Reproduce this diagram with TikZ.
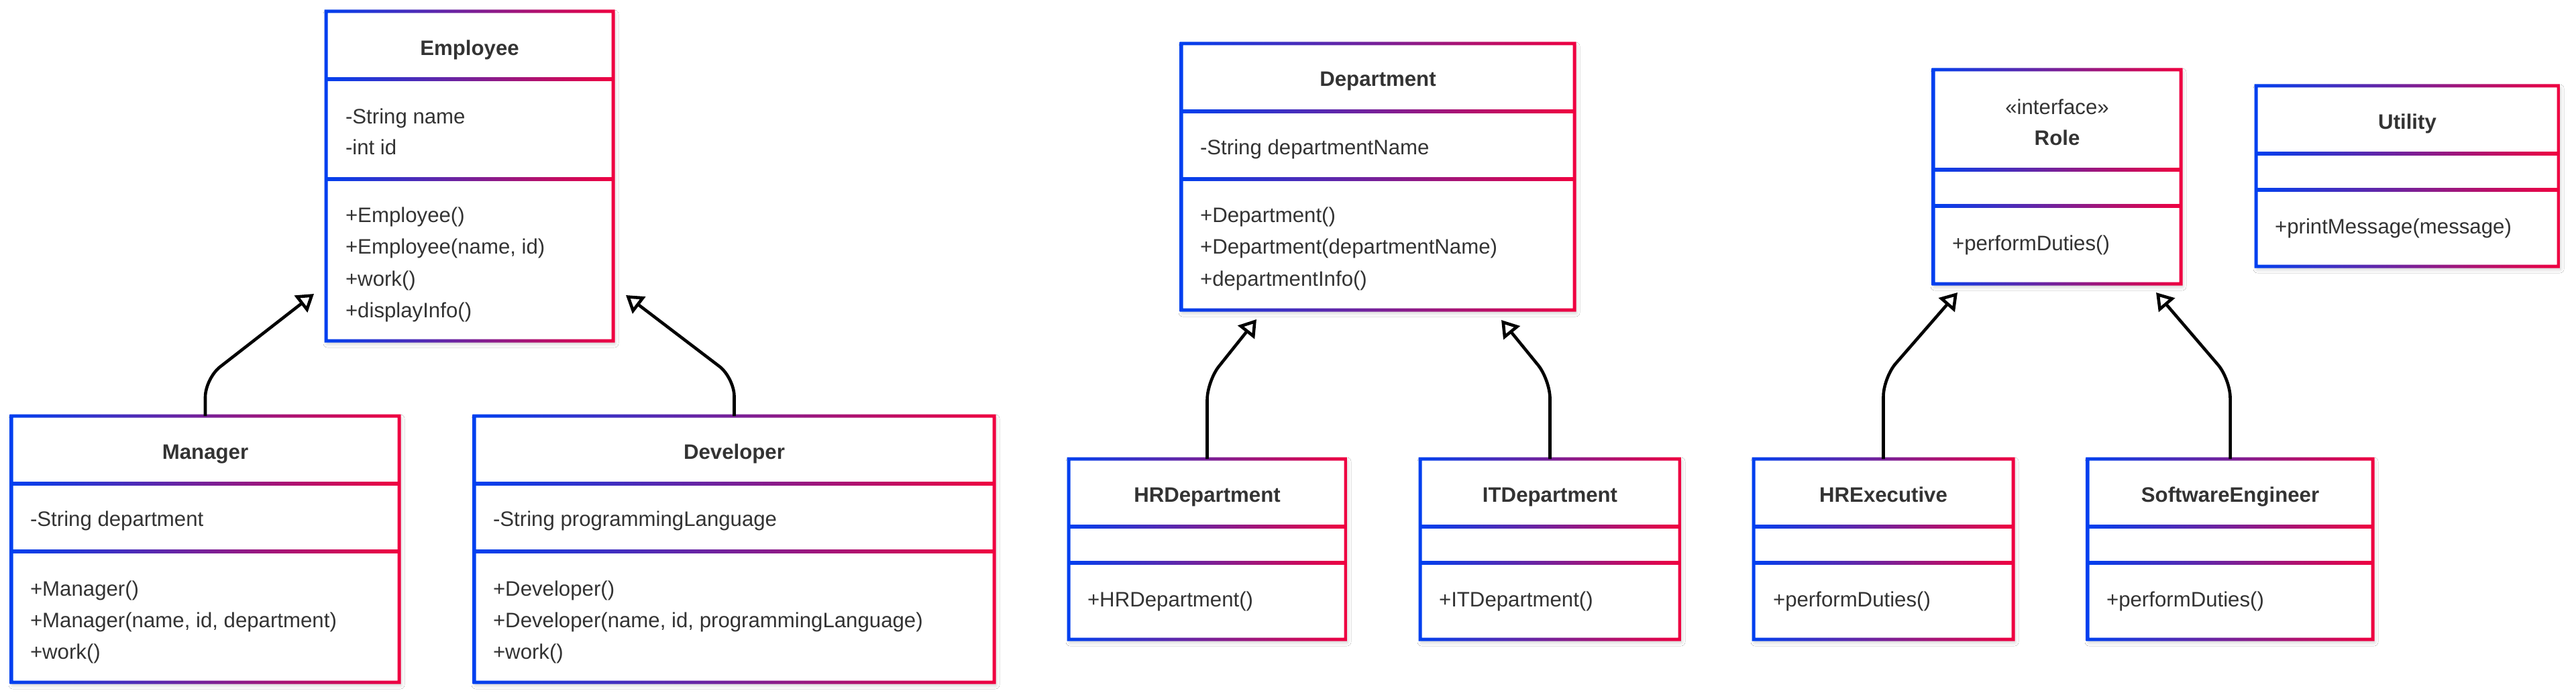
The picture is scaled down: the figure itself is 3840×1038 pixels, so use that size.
\documentclass[tikz,border=0pt]{standalone}
\usepackage{fontspec}
\setmainfont{Liberation Sans}
\usetikzlibrary{arrows.meta,shadows.blur}
\definecolor{umlblue}{RGB}{0,64,240}
\definecolor{umlred}{RGB}{240,0,64}
\definecolor{txtgray}{RGB}{51,51,51}
\tikzset{
  boxbg/.style={fill=white, draw=none, inner sep=0pt, outer sep=0pt, anchor=north west,
    blur shadow={shadow xshift=0.5pt, shadow yshift=-1pt, shadow blur radius=1.5pt, shadow opacity=22}},
  txt/.style={text=txtgray, inner sep=0pt, outer sep=0pt, font=\fontsize{7.8pt}{9pt}\selectfont},
  ttl/.style={txt, anchor=base, font=\fontsize{7.8pt}{9pt}\selectfont\bfseries},
  stereo/.style={txt, anchor=base},
  mem/.style={txt, anchor=base west},
  conn/.style={draw=black, line width=1.15pt, rounded corners=7pt,
    -{Triangle[open, length=6.2pt, width=7.8pt, fill=white]}},
}
% frame: x1,y1,x2,y2,dividers
\newcommand\umlframe[5]{%
  \shade[left color=umlblue, right color=umlred, even odd rule]
    ({#1-2.5},{#2-2.5}) rectangle ({#3+2.5},{#4+2.5}) ({#1+2.5},{#2+2.5}) rectangle ({#3-2.5},{#4-2.5});
  \foreach \dd in {#5}{\shade[left color=umlblue, right color=umlred] ({#1},{\dd-2.5}) rectangle ({#3},{\dd+2.5});}
}
% box: name,x1,y1,x2,y2,dividers
\newcommand\umlbox[6]{%
  \node[boxbg, minimum width={(#4-#2)*0.25pt}, minimum height={(#5-#3)*0.25pt}] (#1) at (#2,#3) {};
  \umlframe{#2}{#3}{#4}{#5}{#6}
}
\begin{document}
\begin{tikzpicture}[x=0.25pt,y=-0.25pt]
\useasboundingbox[fill=white] (0,0) rectangle (3840,1038);

% ---- Employee
\umlbox{emp}{486}{17}{914}{508}{118,267}
\node[ttl] (empT) at (700,83) {Employee};
\node[mem] (empA1) at (515,184) {-String name};
\node[mem] (empA2) at (515,231) {-int id};
\node[mem] (empM1) at (515,331) {+Employee()};
\node[mem] (empM2) at (515,378) {+Employee(name, id)};
\node[mem] (empM3) at (515,426) {+work()};
\node[mem] (empM4) at (515,473) {+displayInfo()};

% ---- Manager
\umlbox{mgr}{17}{620}{595}{1017}{721,822}
\node[ttl] (mgrT) at (306,684) {Manager};
\node[mem] (mgrA1) at (45,784) {-String department};
\node[mem] (mgrM1) at (45,888) {+Manager()};
\node[mem] (mgrM2) at (45,935) {+Manager(name, id, department)};
\node[mem] (mgrM3) at (45,982) {+work()};

% ---- Developer
\umlbox{dev}{707}{620}{1482}{1017}{721,822}
\node[ttl] (devT) at (1094.5,684) {Developer};
\node[mem] (devA1) at (735,784) {-String programmingLanguage};
\node[mem] (devM1) at (735,888) {+Developer()};
\node[mem] (devM2) at (735,935) {+Developer(name, id, programmingLanguage)};
\node[mem] (devM3) at (735,982) {+work()};

% ---- Department
\umlbox{dep}{1761}{65}{2347}{462}{166,267}
\node[ttl] (depT) at (2054,129) {Department};
\node[mem] (depA1) at (1789,231) {-String departmentName};
\node[mem] (depM1) at (1789,331) {+Department()};
\node[mem] (depM2) at (1789,378) {+Department(departmentName)};
\node[mem] (depM3) at (1789,426) {+departmentInfo()};

% ---- HRDepartment
\umlbox{hrd}{1593}{684}{2006}{953}{785,839}
\node[ttl] (hrdT) at (1799.5,748) {HRDepartment};
\node[mem] (hrdM1) at (1621,904) {+HRDepartment()};

% ---- ITDepartment
\umlbox{itd}{2117}{684}{2504}{953}{785,839}
\node[ttl] (itdT) at (2310.5,748) {ITDepartment};
\node[mem] (itdM1) at (2145,904) {+ITDepartment()};

% ---- Role
\umlbox{role}{2882}{104}{3251}{423}{253,307}
\node[stereo] (roleS) at (3066.5,171) {«interface»};
\node[ttl] (roleT) at (3066.5,217) {Role};
\node[mem] (roleM1) at (2910,373) {+performDuties()};

% ---- Utility
\umlbox{util}{3363}{128}{3814}{397}{229,283}
\node[ttl] (utilT) at (3588.5,193) {Utility};
\node[mem] (utilM1) at (3391,348) {+printMessage(message)};

% ---- HRExecutive
\umlbox{hre}{2614}{684}{3001}{953}{785,839}
\node[ttl] (hreT) at (2807.5,748) {HRExecutive};
\node[mem] (hreM1) at (2643,904) {+performDuties()};

% ---- SoftwareEngineer
\umlbox{swe}{3112}{684}{3537}{953}{785,839}
\node[ttl] (sweT) at (3324.5,748) {SoftwareEngineer};
\node[mem] (sweM1) at (3140,904) {+performDuties()};

% ---- arrow tip points
\coordinate (empL) at (468,438);
\coordinate (empR) at (933,440);
\coordinate (depL) at (1873,476);
\coordinate (depR) at (2238,477);
\coordinate (roleL) at (2918,436);
\coordinate (roleR) at (3214,436);

% ---- connectors
\draw[conn] (mgr.north) -- ++(0,-56) -- (empL);
\draw[conn] (dev.north) -- ++(0,-57) -- (empR);
\draw[conn] (hrd.north) -- ++(0,-116) -- (depL);
\draw[conn] (itd.north) -- ++(0,-118) -- (depR);
\draw[conn] (hre.north) -- ++(0,-121) -- (roleL);
\draw[conn] (swe.north) -- ++(0,-119) -- (roleR);
\end{tikzpicture}
\end{document}
